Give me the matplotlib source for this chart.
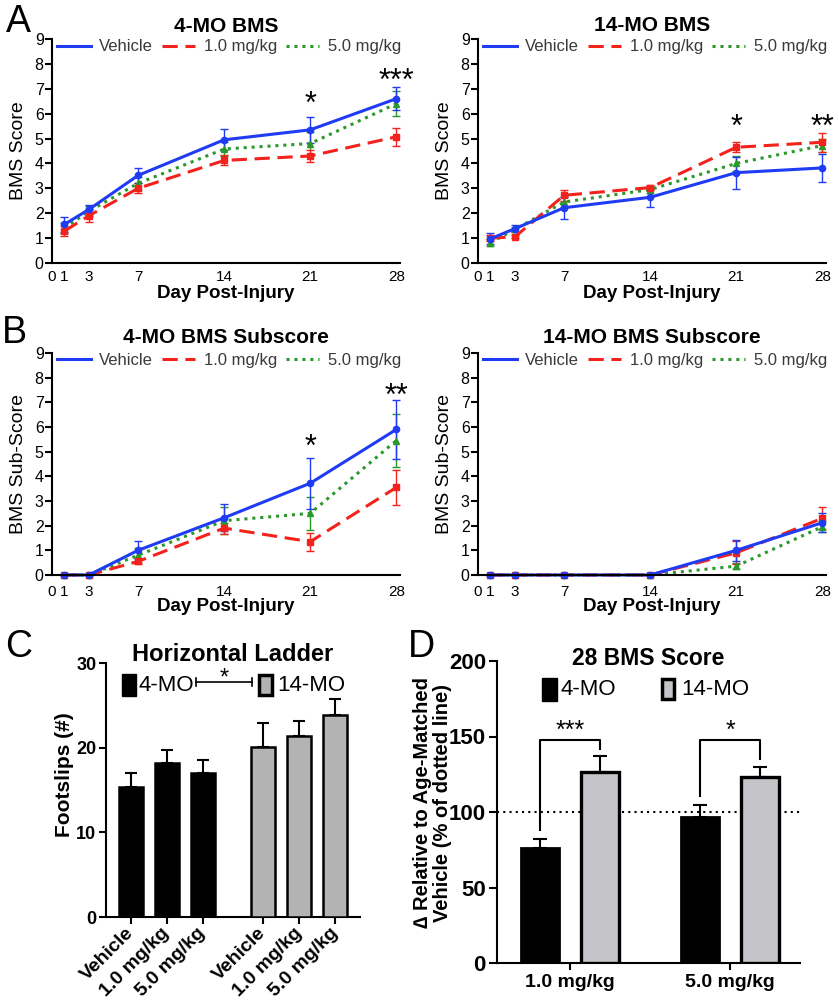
import numpy as np
import matplotlib.pyplot as plt
from matplotlib.lines import Line2D
from matplotlib.patches import Rectangle

plt.rcParams['font.family'] = ['Liberation Sans', 'DejaVu Sans']

days = [1, 3, 7, 14, 21, 28]
day_ticks = [0, 1, 3, 7, 14, 21, 28]
groups = ['Vehicle', '1.0 mg/kg', '5.0 mg/kg']

# A: 4-MO BMS
bms4_veh = [1.55, 2.15, 3.52, 4.95, 5.35, 6.6]
bms4_veh_err = [0.3, 0.2, 0.3, 0.42, 0.53, 0.47]
bms4_low = [1.28, 1.9, 3.0, 4.12, 4.3, 5.07]
bms4_low_err = [0.2, 0.25, 0.2, 0.2, 0.25, 0.35]
bms4_high = [1.4, 2.08, 3.2, 4.58, 4.8, 6.4]
bms4_high_err = [0.2, 0.2, 0.25, 0.3, 0.47, 0.5]

# A: 14-MO BMS
bms14_veh = [0.97, 1.38, 2.22, 2.64, 3.63, 3.82]
bms14_veh_err = [0.22, 0.15, 0.45, 0.4, 0.64, 0.56]
bms14_low = [1.0, 1.05, 2.72, 3.03, 4.65, 4.85]
bms14_low_err = [0.12, 0.06, 0.22, 0.1, 0.2, 0.38]
bms14_high = [0.82, 1.35, 2.45, 2.95, 4.0, 4.72]
bms14_high_err = [0.15, 0.1, 0.2, 0.12, 0.3, 0.25]

# B: 4-MO BMS subscore
sub4_veh = [0, 0, 1.0, 2.32, 3.72, 5.9]
sub4_veh_err = [0, 0, 0.37, 0.55, 1.03, 1.2]
sub4_low = [0, 0, 0.55, 1.9, 1.35, 3.55]
sub4_low_err = [0, 0, 0.12, 0.22, 0.37, 0.7]
sub4_high = [0, 0, 0.8, 2.2, 2.5, 5.45]
sub4_high_err = [0, 0, 0.3, 0.55, 0.68, 1.08]

# B: 14-MO BMS subscore
sub14_veh = [0, 0, 0, 0, 1.0, 2.12]
sub14_veh_err = [0, 0, 0, 0, 0.43, 0.38]
sub14_low = [0, 0, 0, 0, 0.9, 2.3]
sub14_low_err = [0, 0, 0, 0, 0.47, 0.45]
sub14_high = [0, 0, 0, 0, 0.36, 1.96]
sub14_high_err = [0, 0, 0, 0, 0.12, 0.22]

# C: horizontal ladder footslips
slips_4mo = [15.3, 18.15, 17.05]
slips_4mo_err = [1.75, 1.55, 1.5]
slips_14mo = [20.05, 21.4, 23.9]
slips_14mo_err = [2.85, 1.8, 1.8]

# D: day 28 BMS relative to age-matched vehicle
doses = ['1.0 mg/kg', '5.0 mg/kg']
rel_4mo = [76, 96.5]
rel_4mo_err = [6, 8]
rel_14mo = [126.5, 123.5]
rel_14mo_err = [10.5, 6.5]
rel_stars = ['***', '*']

blue, red, green = '#1f3cf4', '#f4221c', '#2a982a'
dashed = (0, (5, 2.5))
dotted = (0, (1, 1.6))

fig = plt.figure(figsize=(8.39, 10), dpi=100)
W, H = 839, 1000


def add_ax(x0, y0, x1, y1):
    return fig.add_axes([x0 / W, 1 - y1 / H, (x1 - x0) / W, (y1 - y0) / H])


def line_panel(ax, title, title_y, ylabel, data, stars, tick_pad):
    veh, veh_err, low, low_err, high, high_err = data
    series = [(high, high_err, green, '^', dotted),
              (low, low_err, red, 's', dashed),
              (veh, veh_err, blue, 'o', '-')]
    for vals, err, col, mk, ls in series:
        ax.errorbar(days, vals, yerr=err, color=col, ls=ls, lw=2.2, marker=mk,
                    ms=4.5, capsize=3, elinewidth=1, capthick=1, clip_on=False)
    for d, s, y in stars:
        ax.text(d, y, s, ha='center', va='baseline', fontsize=22)
    ax.set_xlim(0, 28.3)
    ax.set_ylim(0, 9)
    ax.set_xticks(day_ticks)
    ax.set_xticks([0], minor=True)
    ax.set_yticks(range(10))
    ax.tick_params(axis='x', which='major', length=0, pad=tick_pad, labelsize=11)
    ax.tick_params(axis='x', which='minor', length=5, width=1.5)
    ax.tick_params(axis='y', length=5, width=1.5, labelsize=11.5, pad=1)
    for sp in ['top', 'right']:
        ax.spines[sp].set_visible(False)
    for sp in ['left', 'bottom']:
        ax.spines[sp].set_linewidth(1.5)
    ax.text(0.5, title_y, title, transform=ax.transAxes, ha='center', va='baseline',
            fontsize=15, fontweight='bold')
    ax.set_ylabel(ylabel, fontsize=14)
    ax.yaxis.set_label_coords(-0.072, 0.5)
    ax.set_xlabel('Day Post-Injury', fontsize=13.5, fontweight='bold')
    handles = [Line2D([], [], color=blue, lw=2.2),
               Line2D([], [], color=red, lw=2.2, ls=dashed),
               Line2D([], [], color=green, lw=2.2, ls=dotted)]
    ax.legend(handles, groups, loc='center left', bbox_to_anchor=(0.015, 0.965), ncol=3,
              frameon=False, fontsize=12, handlelength=2.0, handletextpad=0.5,
              columnspacing=0.55, borderpad=0, borderaxespad=0, labelcolor='#3a3a3a')


ax1 = add_ax(52, 39, 400, 263)
line_panel(ax1, '4-MO BMS', 1.031, 'BMS Score',
           [bms4_veh, bms4_veh_err, bms4_low, bms4_low_err, bms4_high, bms4_high_err],
           [(21, '*', 6.04), (28, '***', 6.96)], 5)
ax1.xaxis.set_label_coords(0.5, -0.1)

ax2 = add_ax(478, 39, 826, 263)
line_panel(ax2, '14-MO BMS', 1.036, 'BMS Score',
           [bms14_veh, bms14_veh_err, bms14_low, bms14_low_err, bms14_high, bms14_high_err],
           [(21, '*', 5.11), (28, '**', 5.11)], 5)
ax2.xaxis.set_label_coords(0.5, -0.1)

ax3 = add_ax(52, 353, 400, 575)
line_panel(ax3, '4-MO BMS Subscore', 1.045, 'BMS Sub-Score',
           [sub4_veh, sub4_veh_err, sub4_low, sub4_low_err, sub4_high, sub4_high_err],
           [(21, '*', 4.82), (28, '**', 6.91)], 7)
ax3.xaxis.set_label_coords(0.5, -0.105)

ax4 = add_ax(478, 353, 826, 575)
line_panel(ax4, '14-MO BMS Subscore', 1.045, 'BMS Sub-Score',
           [sub14_veh, sub14_veh_err, sub14_low, sub14_low_err, sub14_high, sub14_high_err],
           [], 7)
ax4.xaxis.set_label_coords(0.5, -0.105)

# C: horizontal ladder
ax5 = add_ax(106, 663, 360, 917)
xc4 = np.arange(3)
xc14 = np.arange(3) + 3.67
ax5.bar(xc4, slips_4mo, width=0.67, color='black', edgecolor='black', lw=1.8, zorder=3)
ax5.bar(xc14, slips_14mo, width=0.67, color='#b3b3b3', edgecolor='black', lw=1.8, zorder=3)
ax5.errorbar(xc4, slips_4mo, yerr=[np.zeros(3), slips_4mo_err], fmt='none', ecolor='black',
             elinewidth=1.5, capsize=4.3, capthick=1.5, zorder=2)
ax5.errorbar(xc14, slips_14mo, yerr=[np.zeros(3), slips_14mo_err], fmt='none', ecolor='black',
             elinewidth=1.5, capsize=4.3, capthick=1.5, zorder=2)
ax5.set_xlim(-0.69, 6.36)
ax5.set_ylim(0, 30)
ax5.set_yticks([0, 10, 20, 30])
ax5.set_xticks(np.r_[xc4, xc14])
ax5.set_xticklabels(groups * 2, rotation=45, ha='right', va='center', rotation_mode='anchor',
                    fontsize=14, fontweight='bold')
ax5.tick_params(axis='x', length=5, width=1.5, pad=5)
ax5.tick_params(axis='y', length=5, width=1.5, labelsize=13, pad=2)
for lab in ax5.get_yticklabels():
    lab.set_fontweight('bold')
for sp in ['top', 'right']:
    ax5.spines[sp].set_visible(False)
for sp in ['left', 'bottom']:
    ax5.spines[sp].set_linewidth(1.5)
ax5.set_ylabel('Footslips (#)', fontsize=15, fontweight='bold')
ax5.yaxis.set_label_coords(-0.125, 0.56)
ax5.text(0.5, 1.008, 'Horizontal Ladder', transform=ax5.transAxes, ha='center',
         va='baseline', fontsize=17, fontweight='bold')
ax5.add_patch(Rectangle((0.063, 0.87), 0.055, 0.087, transform=ax5.transAxes,
                        facecolor='black', edgecolor='black', clip_on=False))
ax5.text(0.126, 0.913, '4-MO', transform=ax5.transAxes, ha='left', va='center', fontsize=16)
ax5.add_patch(Rectangle((0.603, 0.875), 0.05, 0.078, transform=ax5.transAxes,
                        facecolor='#b3b3b3', edgecolor='black', lw=2.5, clip_on=False))
ax5.text(0.673, 0.913, '14-MO', transform=ax5.transAxes, ha='left', va='center', fontsize=16)
ax5.plot([0.354, 0.575], [0.925, 0.925], color='black', lw=1.2, transform=ax5.transAxes,
         clip_on=False)
for bx in [0.354, 0.575]:
    ax5.plot([bx, bx], [0.91, 0.94], color='black', lw=1.2, transform=ax5.transAxes,
             clip_on=False)
ax5.text(0.465, 0.915, '*', transform=ax5.transAxes, ha='center', va='baseline', fontsize=17)

# D: day 28 BMS relative
ax6 = add_ax(497, 661, 800, 963)
xd = np.arange(2)
off = 0.1875
ax6.axhline(100, color='black', ls=(0, (1, 2)), lw=1.5, zorder=1)
ax6.bar(xd - off, rel_4mo, width=0.24, color='black', edgecolor='black', lw=2, zorder=3)
ax6.bar(xd + off, rel_14mo, width=0.24, color='#c5c5c9', edgecolor='black', lw=2.4, zorder=3)
ax6.errorbar(xd - off, rel_4mo, yerr=[np.zeros(2), rel_4mo_err], fmt='none', ecolor='black',
             elinewidth=1.5, capsize=4.7, capthick=1.5, zorder=2)
ax6.errorbar(xd + off, rel_14mo, yerr=[np.zeros(2), rel_14mo_err], fmt='none', ecolor='black',
             elinewidth=1.5, capsize=4.7, capthick=1.5, zorder=2)
bracket_top = 148
for i, s in enumerate(rel_stars):
    y_left = rel_4mo[i] + rel_4mo_err[i] + 6
    y_right = rel_14mo[i] + rel_14mo_err[i] + 5
    ax6.plot([xd[i] - off, xd[i] - off, xd[i] + off, xd[i] + off],
             [y_left, bracket_top, bracket_top, y_right], color='black', lw=1.5)
    ax6.text(xd[i], bracket_top + 1, s, ha='center', va='baseline', fontsize=18)
ax6.set_xlim(-0.456, 1.4375)
ax6.set_ylim(0, 200)
ax6.set_yticks([0, 50, 100, 150, 200])
ax6.set_xticks(xd)
ax6.set_xticklabels(doses, fontsize=14, fontweight='bold')
ax6.tick_params(axis='x', length=5, width=1.5, pad=3)
ax6.tick_params(axis='y', length=6, width=1.5, labelsize=16, pad=2)
for lab in ax6.get_yticklabels():
    lab.set_fontweight('bold')
for sp in ['top', 'right']:
    ax6.spines[sp].set_visible(False)
for sp in ['left', 'bottom']:
    ax6.spines[sp].set_linewidth(1.5)
ax6.set_ylabel('\u2206 Relative to Age-Matched\nVehicle (% of dotted line)', fontsize=14.5,
               fontweight='bold', linespacing=1.05)
ax6.yaxis.set_label_coords(-0.15, 0.53)
ax6.text(0.5, 0.987, '28 BMS Score', transform=ax6.transAxes, ha='center', va='baseline',
         fontsize=16.5, fontweight='bold')
ax6.add_patch(Rectangle((0.149, 0.868), 0.049, 0.076, transform=ax6.transAxes,
                        facecolor='black', edgecolor='black', clip_on=False))
ax6.text(0.208, 0.906, '4-MO', transform=ax6.transAxes, ha='left', va='center', fontsize=16)
ax6.add_patch(Rectangle((0.543, 0.873), 0.04, 0.066, transform=ax6.transAxes,
                        facecolor='#c5c5c9', edgecolor='black', lw=2.5, clip_on=False))
ax6.text(0.607, 0.906, '14-MO', transform=ax6.transAxes, ha='left', va='center', fontsize=16)

# panel letters
for letter, x, y in [('A', 6, 32), ('B', 2, 343), ('C', 5, 657), ('D', 408, 657)]:
    fig.text(x / W, 1 - y / H, letter, fontsize=27, ha='left', va='baseline')

fig.savefig('out.png', dpi=100)
